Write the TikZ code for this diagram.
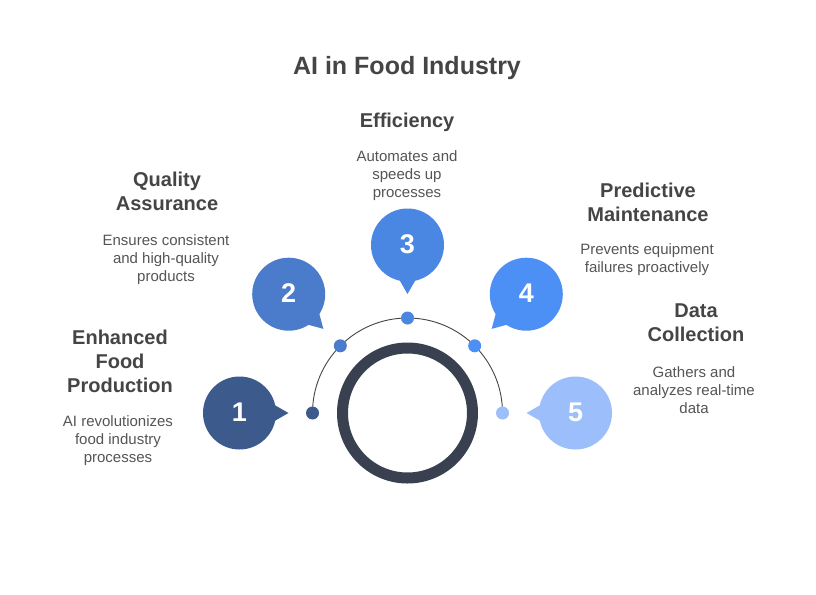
\documentclass[tikz,border=0pt]{standalone}
\usepackage{fontspec}
\setmainfont{Liberation Sans}
\usetikzlibrary{calc}
\definecolor{cA}{HTML}{3D5A8C}
\definecolor{cB}{HTML}{4B7CCB}
\definecolor{cC}{HTML}{4A87E2}
\definecolor{cD}{HTML}{4C8FF5}
\definecolor{cE}{HTML}{9CBEFA}
\definecolor{ringc}{HTML}{394150}
\definecolor{headc}{HTML}{454545}
\definecolor{descc}{HTML}{555555}
\tikzset{
  head/.style={font=\fontsize{20}{24}\selectfont\bfseries, text=headc, align=center, inner sep=0pt},
  desc/.style={font=\fontsize{15}{18}\selectfont, text=descc, align=center, inner sep=0pt},
  num/.style={font=\fontsize{27}{30}\selectfont\bfseries, text=white, inner sep=0pt},
  dotc/.style={circle, inner sep=0pt, minimum size=13pt},
}
\begin{document}
\begin{tikzpicture}[x=1pt,y=1pt]
\useasboundingbox[fill=white] (0,0) rectangle (816,-594);
\coordinate (c) at (407.5,-413);
% title
\node[font=\fontsize{25}{30}\selectfont\bfseries, text=headc, inner sep=0pt] (title) at (407,-68) {AI in Food Industry};
% ring
\draw[ringc, line width=11pt] (c) circle (65);
% arc
\draw[headc, line width=0.9pt] ($(c)+(180:95)$) arc (180:0:95);
% bubbles
\foreach \i/\a/\col in {1/180/cA, 2/135/cB, 3/90/cC, 4/45/cD, 5/0/cE}{
  \coordinate (b\i) at ($(c)+(\a:168)$);
  \fill[\col] (b\i) circle (36.5);
  \fill[\col] ($(b\i)+(\a+180+16:34)$) -- ($(b\i)+(\a+180:49)$) -- ($(b\i)+(\a+180-16:34)$) -- cycle;
  \node[dotc, fill=\col] (d\i) at ($(c)+(\a:95)$) {};
  \node[num] (n\i) at ($(b\i)+(0,1)$) {\i};
}
% texts
\node[head] (h1) at (120,-361) {Enhanced\\Food\\Production};
\node[desc] (t1) at (118,-441) {AI revolutionizes\\food industry\\processes};
\node[head] (h2) at (167,-191) {Quality\\Assurance};
\node[desc] (t2) at (166,-260) {Ensures consistent\\and high-quality\\products};
\node[head] (h3) at (407,-122) {Efficiency};
\node[desc] (t3) at (407,-176) {Automates and\\speeds up\\processes};
\node[head] (h4) at (648,-202) {Predictive\\Maintenance};
\node[desc] (t4) at (647,-260) {Prevents equipment\\failures proactively};
\node[head] (h5) at (696,-323) {Data\\Collection};
\node[desc] (t5) at (694,-390) {Gathers and\\analyzes real-time\\data};
\end{tikzpicture}
\end{document}
